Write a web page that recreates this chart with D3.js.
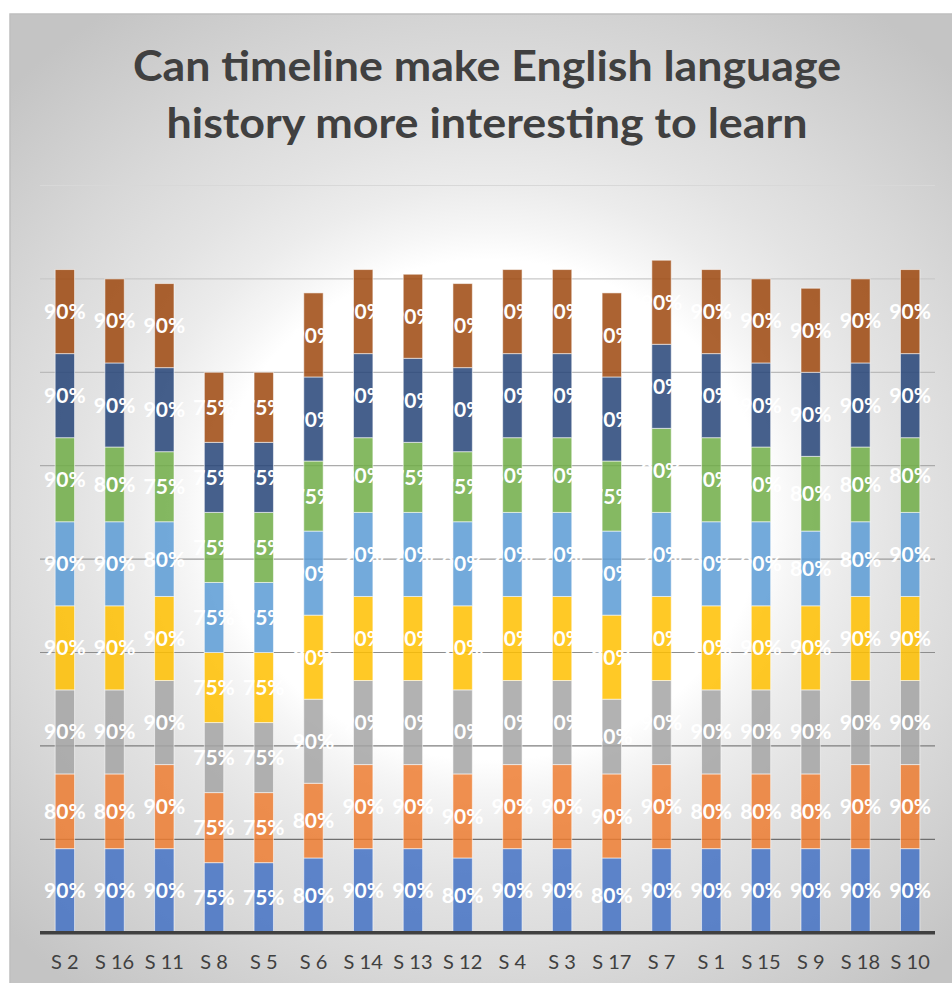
<!DOCTYPE html>
<html>
<head>
<meta charset="utf-8">
<script src="https://cdn.jsdelivr.net/npm/d3@7"></script>
<style>
  html, body { margin: 0; padding: 0; background: #fff; }
  svg { display: block; }
</style>
</head>
<body>
<svg id="chart" width="952" height="983"></svg>
<script>
// categories, bottom-to-top series (one value per category)
const categories = ['S 2', 'S 16', 'S 11', 'S 8', 'S 5', 'S 6', 'S 14', 'S 13', 'S 12',
  'S 4', 'S 3', 'S 17', 'S 7', 'S 1', 'S 15', 'S 9', 'S 18', 'S 10'];

const q1 = [90, 90, 90, 75, 75, 80, 90, 90, 80, 90, 90, 80, 90, 90, 90, 90, 90, 90];
const q2 = [80, 80, 90, 75, 75, 80, 90, 90, 90, 90, 90, 90, 90, 80, 80, 80, 90, 90];
const q3 = [90, 90, 90, 75, 75, 90, 90, 90, 90, 90, 90, 80, 90, 90, 90, 90, 90, 90];
const q4 = [90, 90, 90, 75, 75, 90, 90, 90, 90, 90, 90, 90, 90, 90, 90, 90, 90, 90];
const q5 = [90, 90, 80, 75, 75, 90, 90, 90, 90, 90, 90, 90, 90, 90, 90, 80, 80, 90];
const q6 = [90, 80, 75, 75, 75, 75, 80, 75, 75, 80, 80, 75, 90, 90, 80, 80, 80, 80];
const q7 = [90, 90, 90, 75, 75, 90, 90, 90, 90, 90, 90, 90, 90, 90, 90, 90, 90, 90];
const q8 = [90, 90, 90, 75, 75, 90, 90, 90, 90, 90, 90, 90, 90, 90, 90, 90, 90, 90];

const seriesNames = ['Q1', 'Q2', 'Q3', 'Q4', 'Q5', 'Q6', 'Q7', 'Q8'];
const seriesValues = [q1, q2, q3, q4, q5, q6, q7, q8];
const seriesColors = ['#4472C4', '#ED7D31', '#A5A5A5', '#FFC000', '#5B9BD5', '#70AD47', '#264478', '#9E480E'];
const yTicks = [0, 100, 200, 300, 400, 500, 600, 700, 800];

const titleLines = ['Can timeline make English language', 'history more interesting to learn'];

// build rows for d3.stack
const rows = categories.map((c, i) => {
  const r = { cat: c };
  seriesNames.forEach((s, j) => { r[s] = seriesValues[j][i]; });
  return r;
});
const stacked = d3.stack().keys(seriesNames)(rows);

const svg = d3.select('#chart');

// background gradient: white ellipse in the middle, grey towards the frame
const defs = svg.append('defs');
const grad = defs.append('radialGradient')
  .attr('id', 'bg')
  .attr('gradientUnits', 'userSpaceOnUse')
  .attr('cx', 490).attr('cy', 510).attr('r', 667)
  .attr('gradientTransform', 'translate(490,510) scale(1,0.914) translate(-490,-510)');
[[0, '#ffffff'], [0.41, '#ffffff'], [0.46, '#f6f6f6'], [0.53, '#ececec'], [0.62, '#e3e3e3'],
  [0.75, '#d9d9d9'], [1, '#c4c4c4']]
  .forEach(s => grad.append('stop').attr('offset', s[0]).attr('stop-color', s[1]));

svg.append('rect')
  .attr('x', 10).attr('y', 14)
  .attr('width', 960).attr('height', 990)
  .attr('fill', 'url(#bg)')
  .attr('stroke', '#bfbfbf')
  .attr('stroke-width', 1.5);

const x = d3.scaleBand()
  .domain(categories)
  .range([40, 935])
  .paddingInner(0.61)
  .paddingOuter(0.305);

const y = d3.scaleLinear()
  .domain([0, 800])
  .range([932.7, 185.5]);

const gridColor = d3.scaleLinear()
  .domain([100, 800])
  .range(['#6f6f6f', '#d8d8d8']);

// gridlines
svg.append('g')
  .selectAll('line')
  .data(yTicks.filter(t => t > 0))
  .join('line')
  .attr('x1', 40).attr('x2', 935)
  .attr('y1', d => y(d)).attr('y2', d => y(d))
  .attr('stroke', d => gridColor(d))
  .attr('stroke-width', 1.2);

// bars
const layers = svg.append('g')
  .selectAll('g')
  .data(stacked)
  .join('g')
  .attr('fill', (d, i) => seriesColors[i]);

layers.selectAll('rect')
  .data(d => d)
  .join('rect')
  .attr('x', d => x(d.data.cat))
  .attr('width', x.bandwidth())
  .attr('y', d => y(d[1]))
  .attr('height', d => y(d[0]) - y(d[1]))
  .attr('fill-opacity', 0.85)
  .attr('stroke', '#ffffff')
  .attr('stroke-opacity', 0.55)
  .attr('stroke-width', 1);

// data labels
const labels = svg.append('g')
  .style('font-family', 'Lato, "Open Sans", sans-serif')
  .style('font-weight', 700)
  .style('font-size', '21px')
  .attr('fill', '#ffffff')
  .attr('text-anchor', 'middle');

stacked.forEach(layer => {
  labels.selectAll(null)
    .data(layer)
    .join('text')
    .attr('x', d => x(d.data.cat) + x.bandwidth() / 2)
    .attr('y', d => (y(d[0]) + y(d[1])) / 2)
    .attr('dy', '0.36em')
    .text(d => (d[1] - d[0]) + '%');
});

// category axis
const xAxis = svg.append('g')
  .attr('transform', 'translate(0,932.7)')
  .call(d3.axisBottom(x).tickSize(0).tickPadding(22));
xAxis.select('.domain')
  .attr('stroke', '#404040')
  .attr('stroke-width', 3.5)
  .attr('d', 'M40,0H935');
xAxis.selectAll('text')
  .attr('fill', '#404040')
  .style('font-family', 'Lato, "Open Sans", sans-serif')
  .style('font-size', '20px');

// title
svg.append('g')
  .selectAll('text')
  .data(titleLines)
  .join('text')
  .attr('x', 487)
  .attr('y', (d, i) => 81 + i * 57)
  .attr('text-anchor', 'middle')
  .attr('fill', '#404040')
  .style('font-family', 'Lato, "Open Sans", sans-serif')
  .style('font-weight', 700)
  .style('font-size', '42px')
  .attr('textLength', (d, i) => i === 0 ? 708 : 641)
  .attr('lengthAdjust', 'spacingAndGlyphs')
  .text(d => d);
</script>
</body>
</html>
